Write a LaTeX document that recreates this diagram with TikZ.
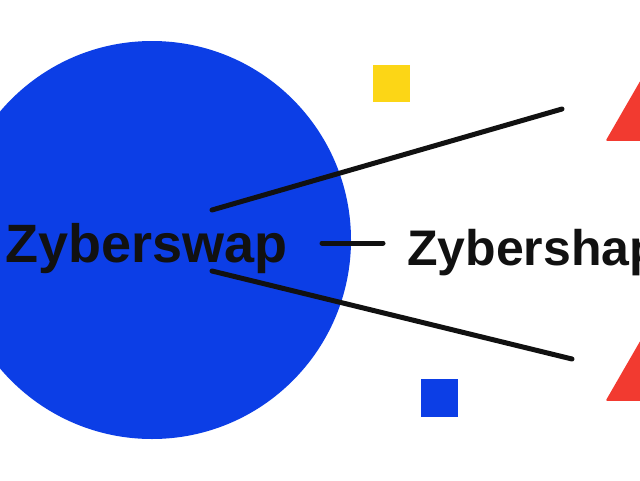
\documentclass[tikz,border=0pt]{standalone}
\usepackage{fontspec}
\setmainfont{Liberation Sans}
\usetikzlibrary{positioning}

\definecolor{swapblue}{RGB}{12,62,230}
\definecolor{swapyellow}{RGB}{252,214,22}
\definecolor{swapred}{RGB}{242,58,48}
\definecolor{swapink}{RGB}{17,17,17}

\begin{document}
\begin{tikzpicture}[x=1pt,y=-1pt,
		namenode/.style={inner sep=0pt,anchor=base west,text=swapink,font=\fontsize{#1}{60}\selectfont\bfseries},
		tiebar/.style={draw=swapink,line width=5pt,line cap=round},
		tile/.style={fill=#1,draw=none},
		warn/.style={fill=swapred,draw=swapred,line width=1.5pt,line join=round}]
		\useasboundingbox (0,0) rectangle (640,480);
		\fill[white] (0,0) rectangle (640,480);
		\clip (0,0) rectangle (640,480);

		\fill[swapblue] (152,240) circle (199);
		\fill[tile=swapyellow] (373,65) rectangle (410,102);
		\fill[tile=swapblue] (421,379) rectangle (458,417);
		\filldraw[warn] (607,140) -- (687,140) -- (647,70.7) -- cycle;
		\filldraw[warn] (607,400) -- (687,400) -- (647,330.7) -- cycle;

		\node[namenode=54]		(swap)		at (5,262)		{Zyberswap};
		\node[namenode=50]		(shap)		at (407,265)	{Zybershap};

		\coordinate (up1) at (212,210);
		\coordinate (up2) at (562,109);
		\coordinate (lo1) at (212,271);
		\coordinate (lo2) at (572,359);
		\coordinate (mid1) at (322,243);
		\coordinate (mid2) at (383,243);

		\draw[tiebar] (up1) -- (up2);
		\draw[tiebar] (lo1) -- (lo2);
		\draw[tiebar] (mid1) -- (mid2);
	\end{tikzpicture}
\end{document}
